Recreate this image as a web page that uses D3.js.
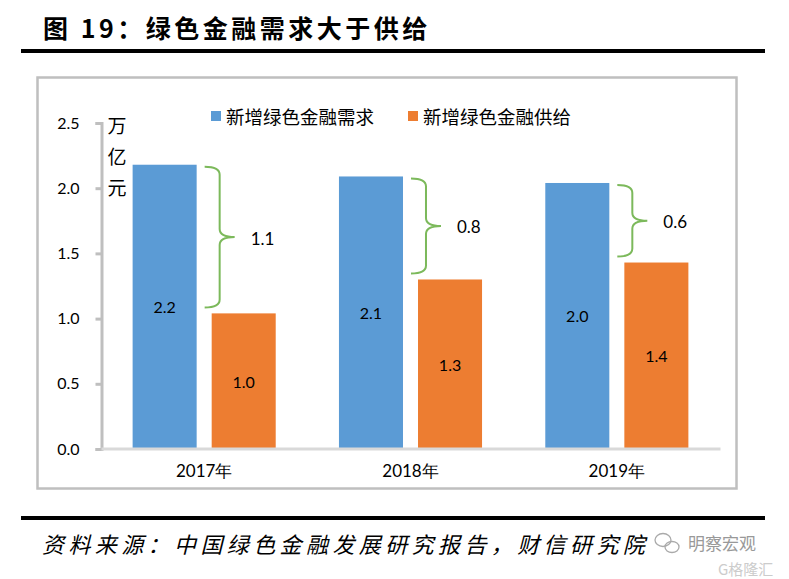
<!DOCTYPE html>
<html>
<head>
<meta charset="utf-8">
<script src="https://cdn.jsdelivr.net/npm/d3@7"></script>
<style>
  body { margin: 0; background: #fff; }
  svg { display: block; }
</style>
</head>
<body>
<div id="chart"></div>
<script>
// data
const years = ["2017年", "2018年", "2019年"];
const series = ["新增绿色金融需求", "新增绿色金融供给"];
const demand = [2.18, 2.09, 2.04];
const supply = [1.04, 1.30, 1.43];
const yTicks = [0, 0.5, 1.0, 1.5, 2.0, 2.5];
const unitChars = ["万", "亿", "元"];

const colors = ["#5b9bd5", "#ed7d31"];
const braceColor = "#7cb95b";
const cjk = "'Noto Sans CJK SC', sans-serif";
const num = "Lato, 'Noto Sans', sans-serif";

const width = 789, height = 579;

const svg = d3.select("#chart").append("svg")
  .attr("width", width)
  .attr("height", height);

// title + rules
svg.append("text")
  .attr("x", 43).attr("y", 27)
  .attr("dominant-baseline", "central")
  .attr("font-family", cjk).attr("font-weight", "bold")
  .attr("font-size", 25).attr("letter-spacing", 3.5)
  .attr("fill", "#000")
  .text("图 19：绿色金融需求大于供给");

svg.append("rect").attr("x", 21).attr("y", 49).attr("width", 744).attr("height", 4).attr("fill", "#000");
svg.append("rect").attr("x", 21).attr("y", 516).attr("width", 744).attr("height", 4).attr("fill", "#000");

// chart frame
svg.append("rect")
  .attr("x", 37.5).attr("y", 77.5).attr("width", 699).attr("height", 411)
  .attr("fill", "none").attr("stroke", "#bfbfbf").attr("stroke-width", 2.5);

const y = d3.scaleLinear().domain([0, 2.5]).range([449, 123]);
const x = d3.scaleBand().domain(years).range([101, 720]);
const xs = d3.scaleBand().domain(series).range([0, x.bandwidth()])
  .paddingInner(0.19).paddingOuter(0.4);

// y axis
const yAxis = svg.append("g")
  .attr("transform", "translate(101.5,0)")
  .call(d3.axisLeft(y).tickValues(yTicks).tickFormat(d3.format(".1f")).tickSize(6).tickPadding(16));
yAxis.select(".domain").attr("stroke", "#bfbfbf").attr("stroke-width", 3);
yAxis.selectAll(".tick line").attr("stroke", "#bfbfbf").attr("stroke-width", 3);
yAxis.selectAll(".tick text")
  .attr("font-family", num).attr("font-size", 16).attr("fill", "#000");

// bars
const rows = years.map((yr, i) => ({ year: yr, vals: [demand[i], supply[i]] }));

const groups = svg.append("g").selectAll("g")
  .data(rows)
  .join("g")
  .attr("transform", (d) => `translate(${x(d.year)},0)`);

groups.selectAll("rect")
  .data((d) => d.vals.map((v, j) => ({ key: series[j], v: v, j: j })))
  .join("rect")
  .attr("x", (d) => xs(d.key))
  .attr("y", (d) => y(d.v))
  .attr("width", xs.bandwidth())
  .attr("height", (d) => y(0) - y(d.v))
  .attr("fill", (d) => colors[d.j]);

groups.selectAll("text.val")
  .data((d) => d.vals.map((v, j) => ({ key: series[j], v: v })))
  .join("text")
  .attr("class", "val")
  .attr("x", (d) => xs(d.key) + xs.bandwidth() / 2)
  .attr("y", (d) => (y(d.v) + y(0)) / 2)
  .attr("text-anchor", "middle")
  .attr("dominant-baseline", "central")
  .attr("font-family", num).attr("font-size", 16).attr("fill", "#000")
  .text((d) => d3.format(".1f")(d.v));

// x axis
const xAxis = svg.append("g")
  .attr("transform", "translate(0,448.5)")
  .call(d3.axisBottom(x).tickSize(0).tickPadding(16));
xAxis.select(".domain").attr("stroke", "#d9d9d9").attr("stroke-width", 3);
xAxis.selectAll(".tick text")
  .attr("font-family", num).attr("font-size", 17).attr("fill", "#000");

// braces showing the gap
function bracePath(x0, y0, y1) {
  const xv = x0 + 15, xt = xv + 15, ym = (y0 + y1) / 2, r = 8;
  return `M${x0},${y0} Q${xv},${y0} ${xv},${y0 + r}` +
    ` L${xv},${ym - r} Q${xv},${ym} ${xt},${ym}` +
    ` Q${xv},${ym} ${xv},${ym + r}` +
    ` L${xv},${y1 - r} Q${xv},${y1} ${x0},${y1}`;
}

rows.forEach((d, i) => {
  const x0 = x(d.year) + xs(series[0]) + xs.bandwidth() + 8;
  const y0 = y(demand[i]) + 2;
  const y1 = y(supply[i]) - 6;
  svg.append("path")
    .attr("d", bracePath(x0, y0, y1))
    .attr("fill", "none").attr("stroke", braceColor).attr("stroke-width", 2);
  svg.append("text")
    .attr("x", x0 + 46).attr("y", (y0 + y1) / 2 + 1)
    .attr("dominant-baseline", "central")
    .attr("font-family", num).attr("font-size", 17).attr("fill", "#000")
    .text(d3.format(".1f")(demand[i] - supply[i]));
});

// unit label
svg.append("g").selectAll("text")
  .data(unitChars)
  .join("text")
  .attr("x", 117)
  .attr("y", (d, i) => 124 + i * 31)
  .attr("text-anchor", "middle")
  .attr("dominant-baseline", "central")
  .attr("font-family", cjk).attr("font-size", 19).attr("fill", "#000")
  .text((d) => d);

// legend
const legendX = [211, 408];
const legend = svg.append("g").selectAll("g")
  .data(series)
  .join("g")
  .attr("transform", (d, i) => `translate(${legendX[i]},116)`);
legend.append("rect")
  .attr("x", 0).attr("y", -5).attr("width", 10).attr("height", 10)
  .attr("fill", (d, i) => colors[i]);
legend.append("text")
  .attr("x", 15).attr("y", 0)
  .attr("dominant-baseline", "central")
  .attr("font-family", cjk).attr("font-size", 18.5).attr("fill", "#000")
  .text((d) => d);

// source line
svg.append("text")
  .attr("x", 42).attr("y", 543)
  .attr("dominant-baseline", "central")
  .attr("font-family", cjk).attr("font-style", "italic")
  .attr("font-size", 22).attr("letter-spacing", 4.4).attr("fill", "#000")
  .text("资料来源：中国绿色金融发展研究报告，财信研究院");

// watermark
const wm = svg.append("g").attr("fill", "none").attr("stroke", "#aaa").attr("stroke-width", 1.3);
wm.append("ellipse").attr("cx", 663).attr("cy", 540).attr("rx", 8).attr("ry", 6.5);
wm.append("ellipse").attr("cx", 672).attr("cy", 547).attr("rx", 7).attr("ry", 5.5);
svg.append("text")
  .attr("x", 688).attr("y", 542)
  .attr("dominant-baseline", "central")
  .attr("font-family", cjk).attr("font-size", 17).attr("fill", "#999")
  .text("明察宏观");
svg.append("text")
  .attr("x", 718).attr("y", 568)
  .attr("dominant-baseline", "central")
  .attr("font-family", cjk).attr("font-size", 15).attr("fill", "#ccc")
  .text("G格隆汇");
</script>
</body>
</html>
